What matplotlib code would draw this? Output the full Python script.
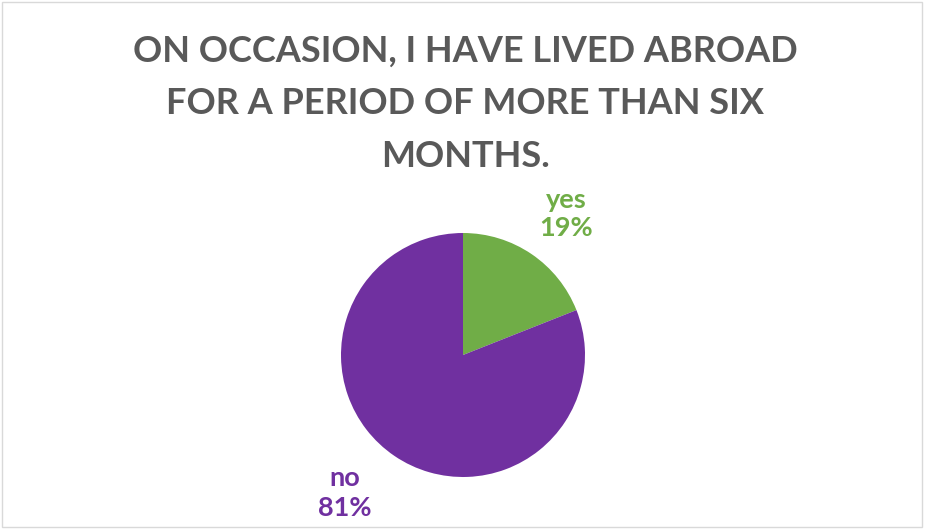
import matplotlib.pyplot as plt
from matplotlib.patches import Rectangle

title = "ON OCCASION, I HAVE LIVED ABROAD\nFOR A PERIOD OF MORE THAN SIX\nMONTHS."
labels = ["yes", "no"]
shares = [19, 81]
colors = ["#70AD47", "#7030A0"]

plt.rcParams['font.family'] = ['Lato', 'DejaVu Sans']

fig = plt.figure(figsize=(9.26, 5.29), dpi=100)
fig.patch.set_facecolor("white")

# pie sits in a square axes centred on the lower part of the figure
r_px = 122
cx, cy = 463, 529 - 355
ax = fig.add_axes([(cx - r_px) / 926, (cy - r_px) / 529, 2 * r_px / 926, 2 * r_px / 529])
wedges, _ = ax.pie(shares, colors=colors, startangle=90, counterclock=False,
                   radius=1.0, wedgeprops=dict(linewidth=0))
ax.set_xlim(-1, 1)
ax.set_ylim(-1, 1)
ax.set_aspect("equal")
ax.axis("off")

# data labels outside the slices
label_pos = [(566, 214), (345, 493)]
for lab, val, col, (x, y) in zip(labels, shares, colors, label_pos):
    fig.text(x / 926, 1 - y / 529, f"{lab}\n{val}%", color=col, fontsize=19.5,
             fontweight="bold", ha="center", va="center", linespacing=1.25)

fig.text(465 / 926, 1 - 104 / 529, title, color="#595959", fontsize=26,
         fontweight="bold", ha="center", va="center", linespacing=1.72)

fig.patches.append(Rectangle((0.002, 0.004), 0.994, 0.993, transform=fig.transFigure,
                             fill=False, edgecolor="#D9D9D9", linewidth=1))

fig.savefig("out.png", dpi=100)
